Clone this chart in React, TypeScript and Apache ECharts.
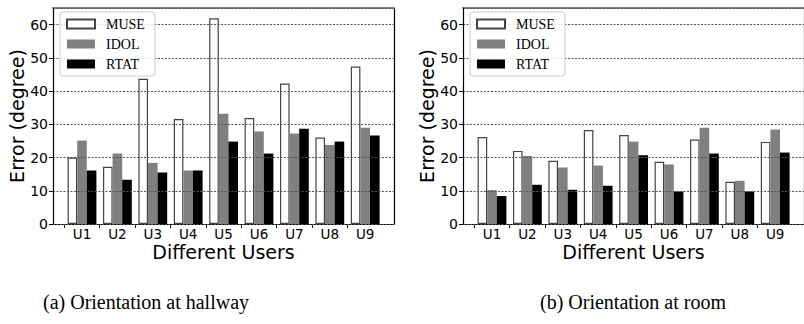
import React, { useEffect, useRef } from "react";
import * as echarts from "echarts";

// Users on the x axis
const categories = ["U1", "U2", "U3", "U4", "U5", "U6", "U7", "U8", "U9"];
const seriesNames = ["MUSE", "IDOL", "RTAT"];

// Orientation error at hallway (degree)
const hallMuse = [20.0, 17.2, 43.7, 31.6, 61.9, 31.9, 42.3, 26.0, 47.4];
const hallIdol = [25.1, 21.2, 18.4, 16.1, 33.2, 27.8, 27.2, 23.8, 29.0];
const hallRtat = [16.1, 13.3, 15.5, 16.1, 24.8, 21.2, 28.7, 24.8, 26.6];

// Orientation error at room (degree)
const roomMuse = [26.2, 22.0, 19.0, 28.3, 26.8, 18.7, 25.4, 12.7, 24.7];
const roomIdol = [10.2, 20.5, 17.0, 17.6, 24.8, 17.9, 29.0, 13.0, 28.4];
const roomRtat = [8.4, 11.8, 10.3, 11.5, 20.7, 9.8, 21.2, 9.8, 21.5];

const yMax = 65;
const yInterval = 10;

const captions = ["(a) Orientation at hallway", "(b) Orientation at room"];

const SANS = "DejaVu Sans";
const SERIF = "Liberation Serif";

const museColor = "#ffffff";
const museBorder = "#444444";
const idolColor = "#808080";
const rtatColor = "#000000";

// Panel geometry
const TOP = 8;
const HEIGHT = 216;
const FRAME_W = 341;
const BAND = 35.4;
const TICK_OFF = 11;

function buildPanel(p: number, frameLeft: number, values: number[][]) {
  const gi = p * 3;
  const xi = p * 4;
  const yi = p * 4;
  const bandLeft = frameLeft + TICK_OFF + 0.3;

  const grids = [
    { left: frameLeft, top: TOP, width: FRAME_W, height: HEIGHT },
    { left: bandLeft, top: TOP, width: BAND * categories.length, height: HEIGHT },
    { left: bandLeft, top: TOP, width: BAND * (categories.length - 1), height: HEIGHT },
  ];

  const xAxes = [
    {
      gridIndex: gi,
      type: "value",
      min: 0,
      max: 1,
      position: "bottom",
      name: "Different Users",
      nameLocation: "middle",
      nameGap: 18,
      nameTextStyle: { fontFamily: SANS, fontSize: 19, color: "#000", lineHeight: 19 },
      axisLine: { show: true, onZero: false, lineStyle: { color: "#000", width: 1.2 } },
      axisTick: { show: false },
      axisLabel: { show: false },
      splitLine: { show: false },
    },
    {
      gridIndex: gi,
      type: "value",
      min: 0,
      max: 1,
      position: "top",
      axisLine: { show: true, onZero: false, lineStyle: { color: "#808080", width: 2 } },
      axisTick: { show: false },
      axisLabel: { show: false },
      splitLine: { show: false },
    },
    {
      gridIndex: gi + 1,
      type: "category",
      data: categories,
      position: "bottom",
      axisLine: { show: false },
      axisTick: { show: false },
      axisLabel: {
        fontFamily: SANS,
        fontSize: 13.5,
        lineHeight: 11,
        color: "#000",
        margin: 4,
      },
    },
    {
      gridIndex: gi + 2,
      type: "value",
      min: 0,
      max: categories.length - 1,
      interval: 1,
      position: "bottom",
      axisLine: { show: false },
      axisTick: { show: true, length: 4, lineStyle: { color: "#000", width: 1 } },
      axisLabel: { show: false },
      splitLine: { show: false },
    },
  ];

  const yAxes = [
    {
      gridIndex: gi,
      type: "value",
      min: 0,
      max: yMax,
      interval: yInterval,
      position: "left",
      z: 3,
      name: "Error (degree)",
      nameLocation: "middle",
      nameGap: 21,
      nameTextStyle: { fontFamily: SANS, fontSize: 19, color: "#000", lineHeight: 19 },
      axisLine: { show: true, onZero: false, lineStyle: { color: "#000", width: 1.2 } },
      axisTick: { show: true, length: 4, lineStyle: { color: "#000", width: 1 } },
      axisLabel: {
        fontFamily: SANS,
        fontSize: 14,
        color: "#000",
        margin: 5,
        showMaxLabel: false,
      },
      splitLine: {
        show: true,
        lineStyle: { color: "#555555", width: 1, type: [2, 1.5] },
      },
    },
    {
      gridIndex: gi,
      type: "value",
      min: 0,
      max: yMax,
      position: "right",
      axisLine: { show: true, onZero: false, lineStyle: { color: "#000", width: 1.2 } },
      axisTick: { show: false },
      axisLabel: { show: false },
      splitLine: { show: false },
    },
    {
      gridIndex: gi + 1,
      type: "value",
      min: 0,
      max: yMax,
      show: false,
    },
    {
      gridIndex: gi + 2,
      type: "value",
      min: 0,
      max: yMax,
      show: false,
    },
  ];

  const styles = [
    { color: museColor, borderColor: museBorder, borderWidth: 1.2 },
    { color: idolColor },
    { color: rtatColor },
  ];

  const series = seriesNames.map((name, k) => ({
    type: "bar",
    name,
    xAxisIndex: xi + 2,
    yAxisIndex: yi + 2,
    data: values[k],
    barWidth: 9.6,
    barGap: "0%",
    itemStyle: styles[k],
    z: 2,
  }));

  const legend = {
    orient: "vertical",
    left: frameLeft + 7,
    top: 12,
    data: seriesNames,
    icon: "rect",
    itemWidth: 28,
    itemHeight: 9,
    itemGap: 6,
    padding: [5, 10, 5, 6],
    backgroundColor: "rgba(255,255,255,0.85)",
    borderColor: "#cccccc",
    borderWidth: 1,
    borderRadius: 3,
    selectedMode: false,
    z: 5,
    textStyle: {
      fontFamily: SERIF,
      fontSize: 14,
      lineHeight: 14,
      color: "#000",
      padding: [0, 0, 0, 6],
    },
  };

  return { grids, xAxes, yAxes, series, legend };
}

export default function App() {
  const ref = useRef<HTMLDivElement>(null);

  useEffect(() => {
    if (!ref.current) return;
    const chart = echarts.init(ref.current, undefined, { renderer: "svg" });

    const left = buildPanel(0, 53, [hallMuse, hallIdol, hallRtat]);
    const right = buildPanel(1, 463, [roomMuse, roomIdol, roomRtat]);

    chart.setOption({
      animation: false,
      backgroundColor: "#ffffff",
      grid: [...left.grids, ...right.grids],
      xAxis: [...left.xAxes, ...right.xAxes],
      yAxis: [...left.yAxes, ...right.yAxes],
      legend: [left.legend, right.legend],
      series: [...left.series, ...right.series],
      graphic: [
        {
          type: "text",
          x: 146,
          y: 302,
          style: {
            text: captions[0],
            fontFamily: SERIF,
            fontSize: 20,
            fill: "#000",
            align: "center",
            verticalAlign: "middle",
          },
        },
        {
          type: "text",
          x: 633,
          y: 302,
          style: {
            text: captions[1],
            fontFamily: SERIF,
            fontSize: 20,
            fill: "#000",
            align: "center",
            verticalAlign: "middle",
          },
        },
      ],
    });

    return () => chart.dispose();
  }, []);

  return (
    <div
      ref={ref}
      style={{ position: "fixed", left: 0, top: 0, width: 804, height: 324 }}
    />
  );
}
